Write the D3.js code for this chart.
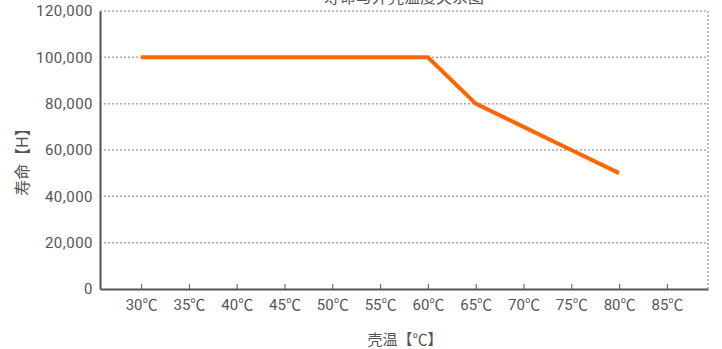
<!DOCTYPE html>
<html><head><meta charset="utf-8">
<script src="https://cdn.jsdelivr.net/npm/d3@7"></script>
<style>
html,body{margin:0;padding:0;background:#fff;}
text{font-family:Roboto,"Noto Sans CJK SC",sans-serif;fill:#555;}
</style></head>
<body><svg id="c" width="722" height="349"></svg>
<script>
const title = "寿命与外壳温度关系图";
const categories = ["30℃","35℃","40℃","45℃","50℃","55℃","60℃","65℃","70℃","75℃","80℃","85℃"];
const lifeHours = [100000,100000,100000,100000,100000,100000,100000,80000,70000,60000,50000,null];
const yTicks = [0,20000,40000,60000,80000,100000,120000];
const xTitle = "壳温【℃】";
const yTitle = "寿命【H】";

const svg = d3.select("#c");
const L=100, R=708, T=11, B=289;
const x = d3.scalePoint().domain(categories).range([L,R]).padding(0.86);
const y = d3.scaleLinear().domain([0,120000]).range([B,T]);

// gridlines
svg.append("g").selectAll("line").data(yTicks.filter(d=>d>0)).join("line")
  .attr("x1",L).attr("x2",R).attr("y1",d=>y(d)).attr("y2",d=>y(d))
  .attr("stroke","#aaa").attr("stroke-width",1.5).attr("stroke-dasharray","2,2");
svg.append("line").attr("x1",R).attr("x2",R).attr("y1",T).attr("y2",B)
  .attr("stroke","#aaa").attr("stroke-width",1.5).attr("stroke-dasharray","2,2");

// y axis
const ya = svg.append("g").attr("transform",`translate(${L},0)`)
  .call(d3.axisLeft(y).tickValues(yTicks).tickSize(0).tickPadding(7).tickFormat(d3.format(",")));
ya.select(".domain").attr("stroke","#555").attr("stroke-width",2);
ya.selectAll("text").style("font-size","15px").style("letter-spacing","0.5px").style("fill","#555");

// x axis
const xa = svg.append("g").attr("transform",`translate(0,${B})`)
  .call(d3.axisBottom(x).tickSize(-5).tickPadding(10).tickSizeOuter(0));
xa.select(".domain").attr("stroke","#555").attr("stroke-width",2);
xa.selectAll(".tick line").attr("stroke","#555");
xa.selectAll("text").style("font-size","15px").style("fill","#555");

// line
const pts = categories.map((c,i)=>({c,v:lifeHours[i]})).filter(d=>d.v!=null);
svg.append("path").datum(pts)
  .attr("d",d3.line().x(d=>x(d.c)).y(d=>y(d.v)))
  .attr("fill","none").attr("stroke","#ff6600").attr("stroke-width",4).attr("stroke-linejoin","miter");

// titles
svg.append("text").attr("x",404).attr("y",3).attr("text-anchor","middle")
  .style("font-size","16px").text(title);
svg.append("text").attr("x",405).attr("y",345).attr("text-anchor","middle")
  .style("font-size","15px").text(xTitle);
svg.append("text").attr("transform","translate(28,158) rotate(-90)").attr("text-anchor","middle")
  .style("font-size","16px").text(yTitle);
</script></body></html>
